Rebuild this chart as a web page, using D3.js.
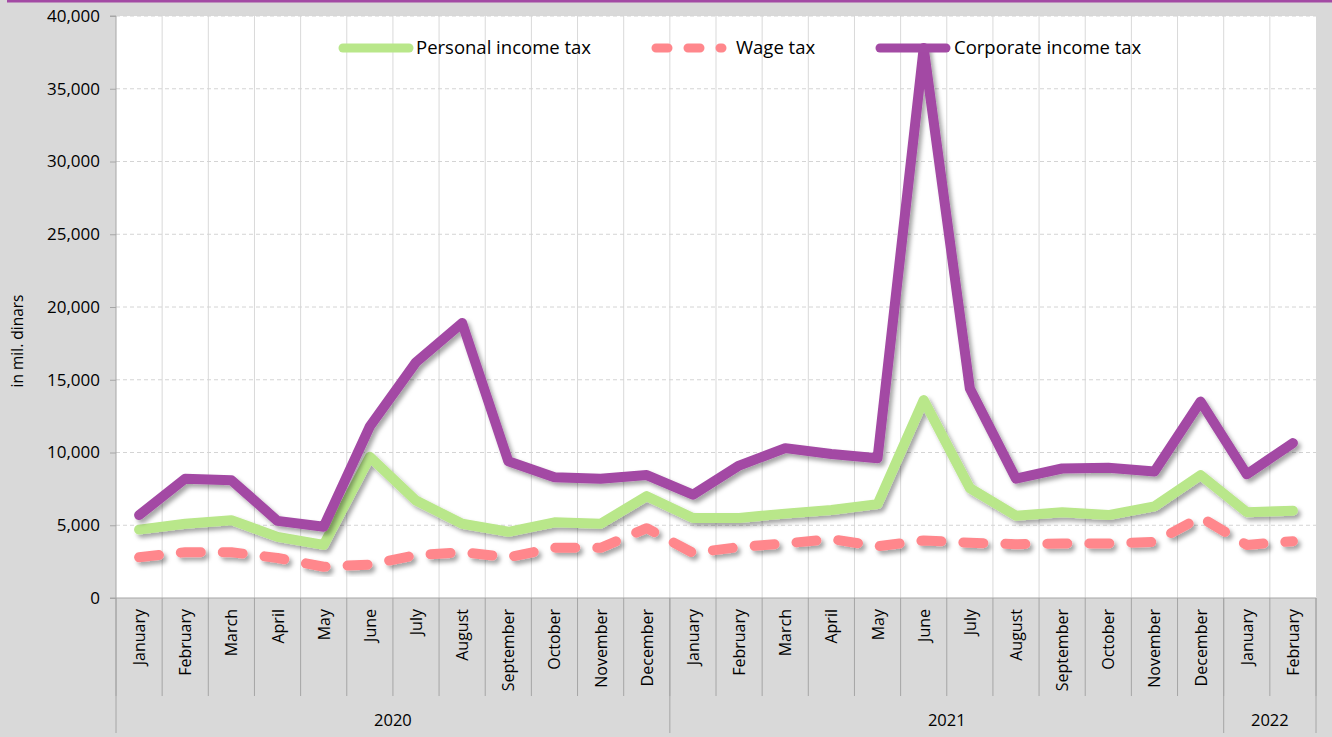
<!DOCTYPE html>
<html>
<head>
<meta charset="utf-8">
<script src="https://cdn.jsdelivr.net/npm/d3@7"></script>
<style>
  html, body { margin: 0; padding: 0; background: #d9d9d9; }
  svg { display: block; }
  text { font-family: "Open Sans", "DejaVu Sans", sans-serif; fill: #000; }
</style>
</head>
<body>
<svg id="chart" width="1332" height="737"></svg>
<script>
// Monthly tax revenues, in mil. dinars
const months = ["January","February","March","April","May","June","July","August","September","October","November","December",
                "January","February","March","April","May","June","July","August","September","October","November","December",
                "January","February"];
const years = [
  { label: "2020", count: 12 },
  { label: "2021", count: 12 },
  { label: "2022", count: 2 }
];
const personalIncomeTax = [4700, 5100, 5350, 4200, 3650, 9700, 6700, 5100, 4550, 5200, 5100, 7000,
                           5500, 5500, 5800, 6050, 6450, 13600, 7550, 5650, 5900, 5700, 6300, 8450,
                           5900, 6000];
const wageTax = [2800, 3150, 3150, 2750, 2150, 2300, 2950, 3150, 2800, 3450, 3450, 4800,
                 3100, 3500, 3750, 4050, 3550, 3950, 3800, 3700, 3750, 3750, 3850, 5550,
                 3650, 3900];
const corporateIncomeTax = [5700, 8200, 8100, 5300, 4900, 11800, 16200, 18900, 9400, 8300, 8200, 8450,
                            7100, 9100, 10300, 9900, 9600, 37800, 14400, 8200, 8900, 8950, 8700, 13500,
                            8500, 10650];
const yTicks = [0, 5000, 10000, 15000, 20000, 25000, 30000, 35000, 40000];

const series = [
  { name: "Personal income tax", values: personalIncomeTax, color: "#b9e78a", dash: null, legendDash: null },
  { name: "Wage tax", values: wageTax, color: "#ff878c", dash: "20,22", legendDash: "12,20" },
  { name: "Corporate income tax", values: corporateIncomeTax, color: "#a34aa4", dash: null, legendDash: null }
];

const svg = d3.select("#chart");
const W = 1332, H = 737;
const plot = { left: 116, right: 1316, top: 16, bottom: 598 };

// top accent rule
svg.append("rect").attr("x", 7).attr("y", 0).attr("width", W - 7).attr("height", 2.5).attr("fill", "#a34aa4");

const x = d3.scaleBand().domain(d3.range(months.length)).range([plot.left, plot.right]).paddingInner(0).paddingOuter(0);
const y = d3.scaleLinear().domain([0, 40000]).range([plot.bottom, plot.top]);

const defs = svg.append("defs");
const f = defs.append("filter").attr("id", "shadow").attr("x", "-10%").attr("y", "-10%").attr("width", "120%").attr("height", "130%");
f.append("feDropShadow").attr("dx", 3).attr("dy", 3.5).attr("stdDeviation", 2.2)
  .attr("flood-color", "#000").attr("flood-opacity", 0.35);

// plot background
svg.append("rect").attr("x", plot.left).attr("y", plot.top)
  .attr("width", plot.right - plot.left).attr("height", plot.bottom - plot.top).attr("fill", "#fff");

// vertical category gridlines
svg.append("g").selectAll("line").data(d3.range(1, months.length)).join("line")
  .attr("x1", i => x(i)).attr("x2", i => x(i))
  .attr("y1", plot.top).attr("y2", plot.bottom)
  .attr("stroke", "#d9d9d9").attr("stroke-width", 1);

// horizontal dashed gridlines
svg.append("g").selectAll("line").data(yTicks.filter(v => v > 0)).join("line")
  .attr("x1", plot.left).attr("x2", plot.right)
  .attr("y1", d => y(d)).attr("y2", d => y(d))
  .attr("stroke", "#d4d4d4").attr("stroke-width", 1).attr("stroke-dasharray", "4,3");

// y axis
const yAxis = d3.axisLeft(y).tickValues(yTicks).tickFormat(d3.format(",")).tickSize(6).tickPadding(10);
const gy = svg.append("g").attr("transform", `translate(${plot.left},0)`).call(yAxis);
gy.select(".domain").attr("stroke", "#a6a6a6").attr("d", `M-6,${plot.top}H0V${plot.bottom}H-6`);
gy.selectAll(".tick line").attr("stroke", "#a6a6a6");
gy.selectAll(".tick text").style("font-size", "17px").style("font-family", '"Open Sans", sans-serif').attr("fill", "#000");

svg.append("text").attr("transform", `translate(23,341) rotate(-90)`)
  .attr("text-anchor", "middle").style("font-size", "15.5px").text("in mil. dinars");

// x axis: baseline, month separators, month labels
const gx = svg.append("g");
gx.append("line").attr("x1", plot.left).attr("x2", plot.right).attr("y1", plot.bottom).attr("y2", plot.bottom)
  .attr("stroke", "#a6a6a6");
gx.selectAll("line.sep").data(d3.range(0, months.length + 1)).join("line").attr("class", "sep")
  .attr("x1", i => i < months.length ? x(i) : plot.right).attr("x2", i => i < months.length ? x(i) : plot.right)
  .attr("y1", plot.bottom).attr("y2", 696)
  .attr("stroke", "#a6a6a6");
gx.selectAll("text.month").data(months).join("text").attr("class", "month")
  .attr("transform", (d, i) => `translate(${x(i) + x.bandwidth() / 2 + 6},${plot.bottom + 11}) rotate(-90)`)
  .attr("text-anchor", "end").style("font-size", "16px").text(d => d);

// year groups
let start = 0;
const yearPos = years.map(g => { const s = start; start += g.count; return { ...g, s, e: start }; });
const edgeX = i => i < months.length ? x(i) : plot.right;
gx.selectAll("line.yr").data([0, ...yearPos.map(g => g.e)]).join("line").attr("class", "yr")
  .attr("x1", edgeX).attr("x2", edgeX).attr("y1", plot.bottom).attr("y2", 733)
  .attr("stroke", "#a6a6a6");
gx.selectAll("text.yr").data(yearPos).join("text").attr("class", "yr")
  .attr("x", g => (edgeX(g.s) + edgeX(g.e)) / 2).attr("y", 726)
  .attr("text-anchor", "middle").style("font-size", "16.5px").text(g => g.label);

// series lines
const line = d3.line().x((d, i) => x(i) + x.bandwidth() / 2).y(d => y(d)).curve(d3.curveLinear);
const gl = svg.append("g");
series.forEach(s => {
  gl.append("path").datum(s.values).attr("d", line)
    .attr("fill", "none").attr("stroke", s.color).attr("stroke-width", 10)
    .attr("stroke-linejoin", "round").attr("stroke-linecap", "round")
    .attr("stroke-dasharray", s.dash)
    .attr("filter", "url(#shadow)");
});

// legend
const legendItems = [
  { x1: 343, x2: 409, tx: 416 },
  { x1: 656, x2: 722, tx: 736 },
  { x1: 880, x2: 946, tx: 954 }
];
const gLeg = svg.append("g");
series.forEach((s, i) => {
  const L = legendItems[i];
  gLeg.append("line").attr("x1", L.x1).attr("x2", L.x2).attr("y1", 48).attr("y2", 48)
    .attr("stroke", s.color).attr("stroke-width", 9).attr("stroke-linecap", "round")
    .attr("stroke-dasharray", s.legendDash);
  gLeg.append("text").attr("x", L.tx).attr("y", 54).style("font-size", "18.5px").text(s.name);
});
</script>
</body>
</html>
